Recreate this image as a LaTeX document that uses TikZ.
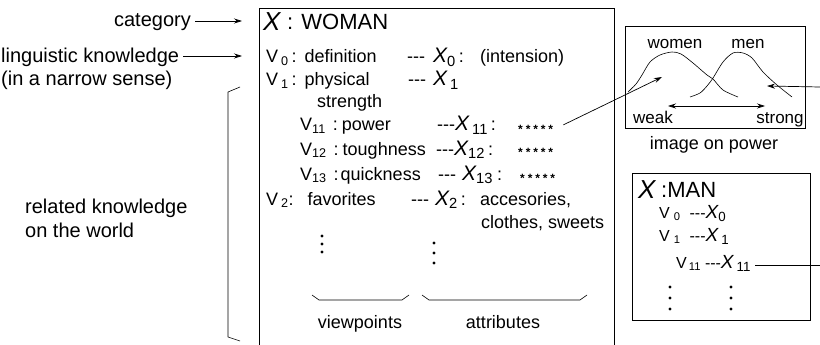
\documentclass[tikz,border=0pt]{standalone}
\usepackage{fontspec}
\setmainfont{Liberation Sans}
\usetikzlibrary{arrows.meta}
\newcommand{\sbx}[1]{\textsubscript{#1}}
\tikzset{
  lbl/.style={font=\fontsize{20}{24}\selectfont, inner sep=0pt},
  tx/.style={font=\fontsize{18}{21}\selectfont, inner sep=0pt, anchor=base west},
  sm/.style={font=\fontsize{16}{19}\selectfont, inner sep=0pt, anchor=base west},
  stars/.style={font=\fontsize{12}{14}\selectfont\bfseries, inner sep=0pt, anchor=base west},
  arr/.style={-{Stealth[length=8pt,width=5pt]}, line width=0.7pt},
  boxline/.style={line width=0.8pt},
  thin/.style={line width=0.6pt},
}
\newcommand{\ix}{{\itshape X}}
\newcommand{\dsh}{-{}-{}-}
\newcommand{\fivestars}{*\hspace{2.9pt}*\hspace{2.9pt}*\hspace{2.9pt}*\hspace{2.9pt}*}
\begin{document}
\begin{tikzpicture}[x=1pt,y=-1pt]
\useasboundingbox (0,0) rectangle (820,345);
% left labels
\node[lbl, anchor=base east] (cat) at (191,27) {category};
\node[lbl, anchor=base west] (ling) at (1,63) {linguistic knowledge};
\node[lbl, anchor=base west] (narrow) at (1,86) {(in a narrow sense)};
\node[lbl, anchor=base west] (rel) at (25,213) {related knowledge};
\node[lbl, anchor=base west] (world) at (25,237) {on the world};
\coordinate (catend) at (242,21);
\coordinate (lingend) at (242,56);
\draw[arr] (cat.east |- catend) ++(4,0) -- (catend);
\draw[arr] (ling.east |- lingend) ++(4,0) -- (lingend);
% bracket
\draw[thin] (240,87) -- (228,92) -- (228,337) -- (240,341);
% main box
\coordinate (mbl) at (259,345);
\coordinate (mtl) at (259,8);
\coordinate (mtr) at (614,8);
\coordinate (mbr) at (614,345);
\draw[boxline] (mbl) -- (mtl) -- (mtr) -- (mbr);
% title
\node[inner sep=0pt, anchor=base west] (w0) at (263,31) {\fontsize{26}{30}\selectfont\itshape X};
\node[inner sep=0pt, anchor=base west] (w1) at (287,30) {\fontsize{22}{26}\selectfont : WOMAN};
% V0
\node[tx] (v0) at (266,63) {V\hspace{3pt}\sbx{0}\hspace{3pt}:\hspace{8pt}definition};
\node[tx] (d0) at (407,63) {\dsh};
\node[tx] (x0) at (433,63) {\fontsize{21}{24}\selectfont\ix\sbx{0}\hspace{3pt}{\fontsize{18}{21}\selectfont :}};
\node[tx] (int) at (480,63) {(intension)};
% V1
\node[tx] (v1) at (266,86) {V\hspace{3pt}\sbx{1}\hspace{3pt}:\hspace{8pt}physical};
\node[tx] (str) at (317,107) {strength};
\node[tx] (d1) at (408,86) {\dsh};
\node[tx] (x1) at (433,86) {\fontsize{21}{24}\selectfont\ix\hspace{3pt}\sbx{1}};
% V11
\node[tx] (v11) at (300,131) {V\sbx{11}\hspace{7pt}:\hspace{4pt}power};
\node[tx] (x11) at (437,131) {\dsh\fontsize{21}{24}\selectfont\ix\hspace{3pt}\sbx{11}\hspace{3pt}\fontsize{18}{21}\selectfont :};
\node[stars] (s11) at (518,133) {\fivestars};
% V12
\node[tx] (v12) at (300,155) {V\sbx{12}\hspace{7pt}:\hspace{4pt}toughness};
\node[tx] (x12) at (436,155) {\dsh\fontsize{21}{24}\selectfont\ix\sbx{12}\hspace{3pt}\fontsize{18}{21}\selectfont :};
\node[stars] (s12) at (518,157) {\fivestars};
% V13
\node[tx] (v13) at (300,180) {V\sbx{13}\hspace{7pt}:\hspace{2pt}quickness};
\node[tx] (x13) at (438,180) {\dsh\hspace{6pt}\fontsize{21}{24}\selectfont\ix\sbx{13}\hspace{4pt}\fontsize{18}{21}\selectfont :};
\node[stars] (s13) at (520,182) {\fivestars};
% V2
\node[tx] (v2) at (266,205) {V\hspace{3pt}\sbx{2}:\hspace{14pt}favorites};
\node[tx] (d2) at (411,205) {\dsh};
\node[tx] (x2) at (435,205) {\fontsize{21}{24}\selectfont\ix\sbx{2}\hspace{3pt}{\fontsize{18}{21}\selectfont :}};
\node[tx] (acc) at (480,205) {accesories,};
\node[tx] (clo) at (481,228) {clothes, sweets};
% dots
\foreach \yy in {236,244,252} \fill (322,\yy) circle (1.6pt);
\foreach \yy in {243,253,263} \fill (434,\yy) circle (1.6pt);
% braces
\draw[thin] (312,295) -- (319,300) -- (402,300) -- (409,295);
\draw[thin] (422,295) -- (429,300) -- (580,300) -- (587,295);
\node[tx, anchor=base] (vp) at (360,328) {viewpoints};
\node[tx, anchor=base] (at) at (503,328) {attributes};
% image box
\draw[boxline] (625,26) rectangle (805,128);
\node[sm, anchor=base] (wom) at (675,49) {\fontsize{17}{20}\selectfont women};
\node[sm, anchor=base] (men) at (748,49) {\fontsize{17}{20}\selectfont men};
\node[sm, anchor=base] (weak) at (653,123) {\fontsize{17}{20}\selectfont weak};
\node[sm, anchor=base] (strong) at (780,123) {\fontsize{17}{20}\selectfont strong};
\draw[thin] plot[smooth] coordinates {(628,92) (636,84) (642,75) (650,62) (660,55) (672,52) (681,54) (693,63) (707,75) (713,79) (723,90) (738,97)};
\draw[thin] plot[smooth] coordinates {(690,97) (700,93) (707,86) (713,78) (723,62) (733,53) (743,53) (752,58) (763,72) (777,85) (792,97)};
\coordinate (wkend) at (668,106);
\coordinate (stend) at (765,106);
\draw[{Stealth[length=8pt,width=5pt]}-{Stealth[length=8pt,width=5pt]}, line width=0.7pt] (wkend) -- (stend);
\node[tx, anchor=base] (iop) at (714,149) {image on power};
% arrow from V11 stars
\coordinate (wtip) at (662,77);
\draw[arr] (s11.east) ++(10,-4) -- (wtip);
% MAN box
\draw[boxline] (632,173) rectangle (810,320);
\node[inner sep=0pt, anchor=base west] (m0) at (638,198) {\fontsize{26}{30}\selectfont\itshape X};
\node[inner sep=0pt, anchor=base west] (m1) at (661,197) {\fontsize{22}{26}\selectfont :MAN};
\node[sm] (mv0) at (659,218) {V\hspace{4pt}\sbx{0}\hspace{9pt}\dsh\fontsize{19}{22}\selectfont\ix\sbx{0}};
\node[sm] (mv1) at (659,241) {V\hspace{4pt}\sbx{1}\hspace{9pt}\dsh\fontsize{19}{22}\selectfont\ix\hspace{3pt}\sbx{1}};
\node[sm] (mv11) at (676,268) {V\hspace{2pt}\sbx{11}\hspace{4pt}\dsh\fontsize{19}{22}\selectfont\ix\hspace{3pt}\sbx{11}};
\foreach \yy in {287,298,309} \fill (670,\yy) circle (1.6pt);
\foreach \yy in {287,298,309} \fill (731,\yy) circle (1.6pt);
\coordinate (mright) at (820,265);
\draw[thin] (mv11.east |- mright) ++(4,0) -- (mright);
% arrow from right into image
\coordinate (rin) at (820,87);
\coordinate (rtip) at (767,86);
\draw[arr] (rin) -- (rtip);
\end{tikzpicture}
\end{document}
